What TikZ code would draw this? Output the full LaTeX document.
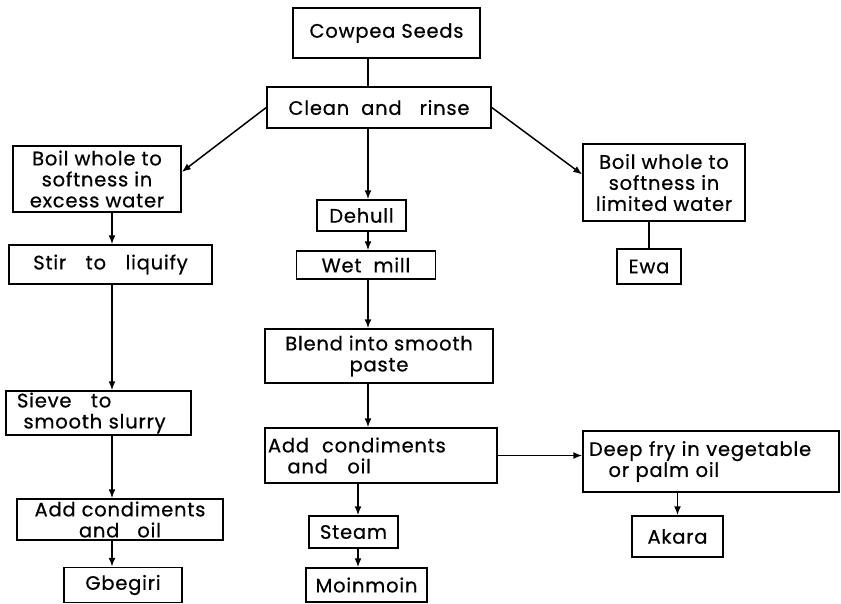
\documentclass[tikz,border=0pt]{standalone}
\usepackage{fontspec}
\setmainfont{Poppins}[LetterSpace=4.0,FakeBold=0.6]
\usetikzlibrary{arrows.meta}

\tikzset{
  stepbox/.style={draw, line width=1.5pt, inner sep=0pt, align=center,
    font=\fontsize{19.5}{21}\selectfont},
  flow/.style={line width=1.5pt, -{Latex[length=9pt,width=7pt]}},
  link/.style={line width=1.5pt}
}

\begin{document}
\begin{tikzpicture}[x=1pt,y=-1pt]
\useasboundingbox (0,0) rectangle (841,603);
% middle column
\node[stepbox, minimum width=187pt, minimum height=50pt] (cowpea) at (386.5,33) {Cowpea Seeds};
\node[stepbox, minimum width=224pt, minimum height=41pt] (clean) at (379,107.5) {Clean \ and \ \ rinse};
\node[stepbox, minimum width=89pt, minimum height=31pt] (dehull) at (361.5,215.5) {Dehull};
\node[stepbox, minimum width=139pt, minimum height=28pt] (wetmill) at (366,265) {Wet \ mill};
\node[stepbox, minimum width=228pt, minimum height=54pt] (blend) at (379,356) {Blend into smooth\\paste};
\node[stepbox, minimum width=232pt, minimum height=55pt, align=left, text width=226pt] (addmid) at (381,455.5) {Add \ condiments\\\quad and \ \ oil};
\node[stepbox, minimum width=89pt, minimum height=32pt] (steam) at (353.5,532) {Steam};
\node[stepbox, minimum width=121pt, minimum height=34pt] (moinmoin) at (366.5,585) {Moinmoin};
% left column
\node[stepbox, minimum width=168pt, minimum height=66pt] (boilexcess) at (97,179) {Boil whole to\\softness in\\excess water};
\node[stepbox, minimum width=203pt, minimum height=39pt] (stir) at (110.5,264.5) {Stir\quad to\quad liquify};
\node[stepbox, minimum width=185pt, minimum height=44pt, align=left, text width=163pt] (sieve) at (98.5,413) {Sieve \ \ to\\\ smooth slurry};
\node[stepbox, minimum width=206pt, minimum height=41pt] (addleft) at (120,519.5) {Add condiments\\and \ \ oil};
\node[stepbox, minimum width=118pt, minimum height=35pt] (gbegiri) at (123,585) {Gbegiri};
% right column
\node[stepbox, minimum width=162pt, minimum height=77pt] (boillimited) at (664,182.5) {Boil whole to\\softness in\\limited water};
\node[stepbox, minimum width=64pt, minimum height=35pt] (ewa) at (649,266.5) {Ewa};
\node[stepbox, minimum width=256pt, minimum height=61pt, align=left, text width=244pt] (deepfry) at (711,461.5) {Deep fry in vegetable\\\quad or palm oil};
\node[stepbox, minimum width=91pt, minimum height=41pt] (akara) at (677.5,536.5) {Akara};

\coordinate (spine) at (368,0);
\coordinate (leftspine) at (112,0);
\coordinate (steamline) at (358,0);

\draw[link] (cowpea.south -| spine) -- (clean.north -| spine);
\draw[flow] (clean.south -| spine) -- (dehull.north -| spine);
\draw[flow] (dehull.south -| spine) -- (wetmill.north -| spine);
\draw[flow] (wetmill.south -| spine) -- (blend.north -| spine);
\draw[flow] (blend.south -| spine) -- (addmid.north -| spine);
\draw[flow] (addmid.south -| steamline) -- (steam.north -| steamline);
\draw[flow] (steam.south -| steamline) -- (moinmoin.north -| steamline);

\draw[flow] (clean.west) -- ([yshift=7pt]boilexcess.east);
\draw[flow] (boilexcess.south -| leftspine) -- (stir.north -| leftspine);
\draw[flow] (stir.south -| leftspine) -- (sieve.north -| leftspine);
\draw[flow] (sieve.south -| leftspine) -- (addleft.north -| leftspine);
\draw[flow] (addleft.south -| leftspine) -- (gbegiri.north -| leftspine);

\draw[flow] (clean.east) -- ([yshift=8pt]boillimited.west);
\draw[link] (boillimited.south -| ewa) -- (ewa.north);
\draw[flow] (addmid.east) -- (addmid.east -| deepfry.west);
\draw[flow] (deepfry.south -| akara) -- (akara.north);
\end{tikzpicture}
\end{document}
